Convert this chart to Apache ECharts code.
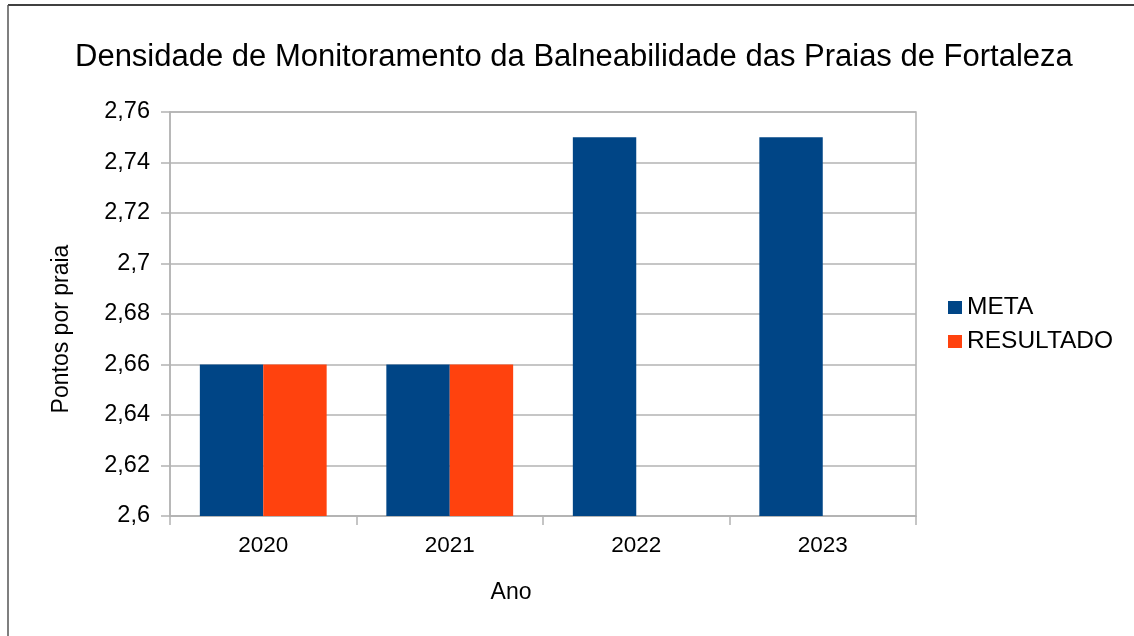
<!DOCTYPE html>
<html>
<head>
<meta charset="utf-8">
<script src="https://cdn.jsdelivr.net/npm/echarts@6/dist/echarts.min.js"></script>
<style>
  html, body { margin: 0; padding: 0; background: #fff; }
  #chart { width: 1134px; height: 636px; }
</style>
</head>
<body>
<div id="chart"></div>
<script>
// --- dados ---
const anos = ['2020', '2021', '2022', '2023'];
const meta = [2.66, 2.66, 2.75, 2.75];
const resultado = [2.66, 2.66, null, null];

const FONT = '"Liberation Sans", Arial, sans-serif';
const fmt = v => String(+v.toFixed(2)).replace('.', ',');

const chart = echarts.init(document.getElementById('chart'));
chart.setOption({
    backgroundColor: '#fff',
    textStyle: { fontFamily: FONT, color: '#000' },
    title: {
        text: 'Densidade de Monitoramento da Balneabilidade das Praias de Fortaleza',
        left: 75, top: 42, padding: 0,
        textStyle: { fontFamily: FONT, fontSize: 31, fontWeight: 'normal', color: '#000' }
    },
    // moldura em volta da imagem (só topo e esquerda aparecem)
    graphic: [
        { type: 'line', shape: { x1: 8, y1: 5, x2: 1134, y2: 5 }, style: { stroke: '#000', lineWidth: 1.5 } },
        { type: 'line', shape: { x1: 8, y1: 5, x2: 8, y2: 636 }, style: { stroke: '#555', lineWidth: 1.5 } }
    ],
    legend: {
        orient: 'vertical', left: 948, top: 295, padding: 0,
        itemWidth: 14, itemHeight: 13, itemGap: 9,
        icon: 'rect',
        textStyle: { fontFamily: FONT, fontSize: 24.5, lineHeight: 24, color: '#000' }
    },
    grid: { left: 170, right: 218, top: 112, bottom: 120, show: true, borderColor: '#b3b3b3', borderWidth: 1.5 },
    xAxis: {
        type: 'category', data: anos,
        name: 'Ano', nameLocation: 'middle', nameGap: 65,
        nameTextStyle: { fontFamily: FONT, fontSize: 23, color: '#000', padding: [0, 64, 0, 0] },
        axisLine: { lineStyle: { color: '#b3b3b3', width: 1.5 } },
        axisTick: { show: true, length: 9, lineStyle: { color: '#b3b3b3', width: 1.5 } },
        axisLabel: { fontFamily: FONT, fontSize: 22.5, color: '#000', margin: 18 }
    },
    yAxis: {
        type: 'value', min: 2.6, max: 2.76, interval: 0.02,
        name: 'Pontos por praia', nameLocation: 'middle', nameGap: 97,
        nameTextStyle: { fontFamily: FONT, fontSize: 23, color: '#000', padding: [0, 30, 0, 0] },
        axisLine: { show: true, lineStyle: { color: '#b3b3b3', width: 1.5 } },
        axisTick: { show: true, length: 9, lineStyle: { color: '#b3b3b3', width: 1.5 } },
        axisLabel: { fontFamily: FONT, fontSize: 23.5, color: '#000', margin: 20, formatter: fmt },
        splitLine: { lineStyle: { color: '#b3b3b3', width: 1.5 } }
    },
    series: [
        { name: 'META', type: 'bar', data: meta, barGap: '0%', barCategoryGap: '32%', itemStyle: { color: '#004586' } },
        { name: 'RESULTADO', type: 'bar', data: resultado, itemStyle: { color: '#ff420e' } }
    ]
});
</script>
</body>
</html>
